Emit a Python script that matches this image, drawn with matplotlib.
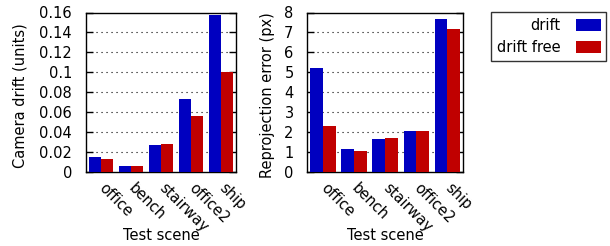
import matplotlib
matplotlib.use("Agg")
import matplotlib.pyplot as plt
import numpy as np

scenes = ["office", "bench", "stairway", "office2", "ship"]
drift_units = [0.015, 0.0055, 0.027, 0.073, 0.157]
driftfree_units = [0.0125, 0.0055, 0.028, 0.056, 0.1]
drift_px = [5.2, 1.12, 1.65, 2.05, 7.65]
driftfree_px = [2.3, 1.03, 1.7, 2.05, 7.15]
yticks_left = [0, 0.02, 0.04, 0.06, 0.08, 0.1, 0.12, 0.14, 0.16]
yticklabels_left = ["0", "0.02", "0.04", "0.06", "0.08", "0.1", "0.12", "0.14", "0.16"]
yticks_right = [0, 1, 2, 3, 4, 5, 6, 7, 8]

blue = "#0000c0"
red = "#c00000"
FS = 10.5

plt.rcParams['font.family'] = ['DejaVu Sans']
fig = plt.figure(figsize=(6.10, 2.46), dpi=100)
W, H = 610, 246
ax1 = fig.add_axes([86 / W, 1 - 171.5 / H, 150 / W, 159 / H])
ax2 = fig.add_axes([307.5 / W, 1 - 171.5 / H, 155.5 / W, 159 / H])

x = np.arange(len(scenes))
bw = 0.41

def draw(ax, a, b, yt, ytl, ylim, ylabel, ylx):
    ax.bar(x - bw / 2, a, bw, color=blue, label="drift", zorder=3)
    ax.bar(x + bw / 2, b, bw, color=red, label="drift free", zorder=3)
    ax.set_xlim(-0.5, 4.5)
    ax.set_ylim(*ylim)
    ax.set_yticks(yt)
    ax.set_yticklabels(ytl, fontsize=FS)
    for v in yt[1:-1]:
        ax.axhline(v, color="black", linestyle=(0, (1, 3.5)), linewidth=0.8, zorder=1)
    ax.tick_params(axis='y', direction='in', length=5, width=1, right=True, pad=10)
    ax.set_xticks(x)
    ax.set_xticklabels(scenes, rotation=-45, ha='left', va='center',
                       rotation_mode='anchor', fontsize=FS)
    ax.tick_params(axis='x', length=0, pad=10)
    ax.set_xlabel("Test scene", fontsize=FS, va='center')
    ax.xaxis.set_label_coords(0.5, -(235 - 171.5) / 159)
    ax.set_ylabel(ylabel, fontsize=FS, va='center')
    ax.yaxis.set_label_coords(ylx, 0.48)
    for s in ax.spines.values():
        s.set_linewidth(1.0)

draw(ax1, drift_units, driftfree_units, yticks_left, yticklabels_left, (0, 0.16),
     "Camera drift (units)", (20 - 86) / 150)
draw(ax2, drift_px, driftfree_px, yticks_right, [str(v) for v in yticks_right], (0, 8),
     "Reprojection error (px)", (268 - 307.5) / 155.5)

h, l = ax2.get_legend_handles_labels()
leg = fig.legend(h, l, loc='upper left', bbox_to_anchor=(491 / W, 1 - 12.5 / H),
                 fontsize=FS, frameon=True, fancybox=False, edgecolor='black',
                 markerfirst=False, handlelength=1.7, handleheight=0.9,
                 borderpad=0.4, labelspacing=0.45, handletextpad=1.05, borderaxespad=0)
leg.get_frame().set_linewidth(1.0)

fig.savefig("out.png", dpi=100)
